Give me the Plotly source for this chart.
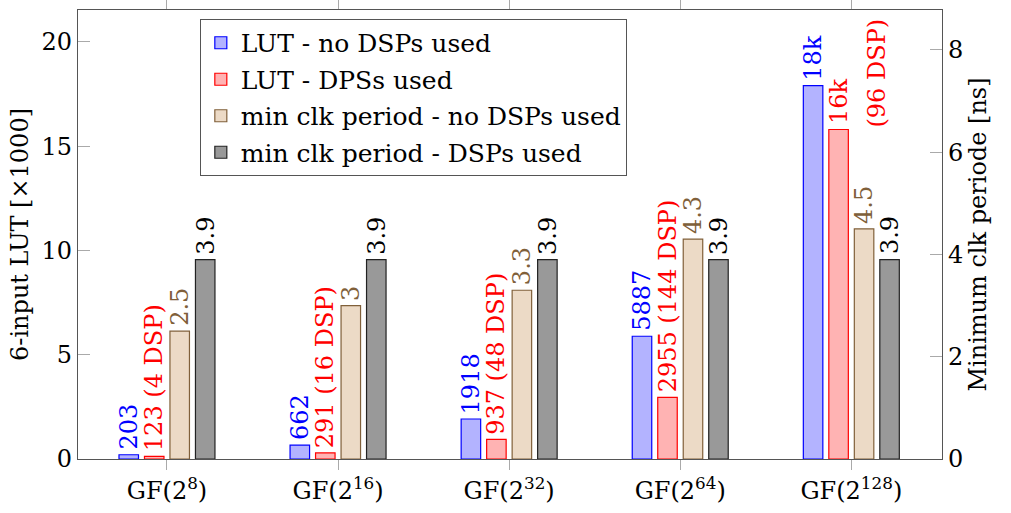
import plotly.graph_objects as go

categories = ["GF(2<sup>8</sup>)", "GF(2<sup>16</sup>)", "GF(2<sup>32</sup>)", "GF(2<sup>64</sup>)", "GF(2<sup>128</sup>)"]
lut_no_dsp = [203, 662, 1918, 5887, 17900]
lut_dsp = [123, 291, 937, 2955, 15800]
clk_no_dsp = [2.5, 3.0, 3.3, 4.3, 4.5]
clk_dsp = [3.9, 3.9, 3.9, 3.9, 3.9]
lut_no_dsp_labels = ["203", "662", "1918", "5887", "18k"]
lut_dsp_labels = ["123 (4 DSP)", "291 (16 DSP)", "937 (48 DSP)", "2955 (144 DSP)", "16k"]
lut_dsp_extra = ["", "", "", "", "(96 DSP)"]
clk_no_dsp_labels = ["2.5", "3", "3.3", "4.3", "4.5"]
clk_dsp_labels = ["3.9", "3.9", "3.9", "3.9", "3.9"]
series_names = ["LUT - no DSPs used", "LUT - DPSs used",
                "min clk period - no DSPs used", "min clk period - DSPs used"]

FONT = "DejaVu Serif"
FS = 24
xs = list(range(len(categories)))
W = 0.114
STEP = 0.149
centers = [-1.5 * STEP, -0.5 * STEP, 0.5 * STEP, 1.5 * STEP]

fills = ["#b3b3ff", "#ffb3b3", "#ecdac6", "#999999"]
edges = ["#0000ff", "#ff0000", "#80603a", "#222222"]
textcols = ["#0000ff", "#ff0000", "#80603a", "#000000"]
values = [lut_no_dsp, lut_dsp, clk_no_dsp, clk_dsp]
labels = [lut_no_dsp_labels, lut_dsp_labels, clk_no_dsp_labels, clk_dsp_labels]
yaxes = ["y", "y", "y2", "y2"]

fig = go.Figure()
for i in range(4):
    vals = [v / 1000 for v in values[i]] if i < 2 else values[i]
    fig.add_trace(go.Bar(
        x=xs, y=vals, name=series_names[i], yaxis=yaxes[i],
        legendgroup=f"g{i}",
        width=W, offset=centers[i] - W / 2,
        marker=dict(color=fills[i], line=dict(color=edges[i], width=1.2)),
    ))

annotations = []
for i in range(4):
    for j in range(len(xs)):
        v = values[i][j] / 1000 if i < 2 else values[i][j]
        annotations.append(dict(
            x=xs[j] + centers[i], y=v, xref="x", yref=yaxes[i],
            text=labels[i][j], textangle=-90, showarrow=False,
            xanchor="center", yanchor="bottom", yshift=3,
            font=dict(family=FONT, size=FS, color=textcols[i]),
        ))
for j in range(len(xs)):
    if lut_dsp_extra[j]:
        annotations.append(dict(
            x=xs[j] + centers[1], y=lut_dsp[j] / 1000, xref="x", yref="y",
            text=lut_dsp_extra[j], textangle=-90, showarrow=False,
            xanchor="center", yanchor="bottom", yshift=0, xshift=38,
            font=dict(family=FONT, size=FS, color=textcols[1]),
        ))

fig.update_layout(
    width=1011, height=513,
    margin=dict(l=78, r=69, t=10, b=54),
    plot_bgcolor="white", paper_bgcolor="white",
    barmode="overlay",
    font=dict(family=FONT, size=FS, color="black"),
    annotations=annotations,
    showlegend=True,
    legend=dict(x=0.141, y=0.98, xanchor="left", yanchor="top",
                bgcolor="white", bordercolor="#555555", borderwidth=1,
                font=dict(family=FONT, size=25, color="black"),
                tracegroupgap=1),
    xaxis=dict(range=[-0.52, 4.53], tickvals=xs, ticktext=categories,
               showgrid=False, zeroline=False, automargin=False,
               showline=True, linecolor="#555555", linewidth=1.3, mirror="ticks",
               ticks="outside", ticklen=10, tickcolor="#aaaaaa", tickwidth=1),
    yaxis=dict(range=[0, 21.53], tickvals=[0, 5, 10, 15, 20],
               title=dict(text="6-input LUT [×1000]", font=dict(size=FS), standoff=6),
               showgrid=False, zeroline=False, automargin=False,
               showline=True, linecolor="#555555", linewidth=1.3,
               ticks="inside", ticklen=12, tickcolor="#aaaaaa", tickwidth=1),
    yaxis2=dict(range=[0, 8.78], tickvals=[0, 2, 4, 6, 8], overlaying="y", side="right",
                title=dict(text="Minimum clk periode [ns]", font=dict(size=FS), standoff=6),
                showgrid=False, zeroline=False, automargin=False,
                showline=True, linecolor="#555555", linewidth=1.3,
                ticks="inside", ticklen=12, tickcolor="#aaaaaa", tickwidth=1),
)

fig.write_html("out.html")
